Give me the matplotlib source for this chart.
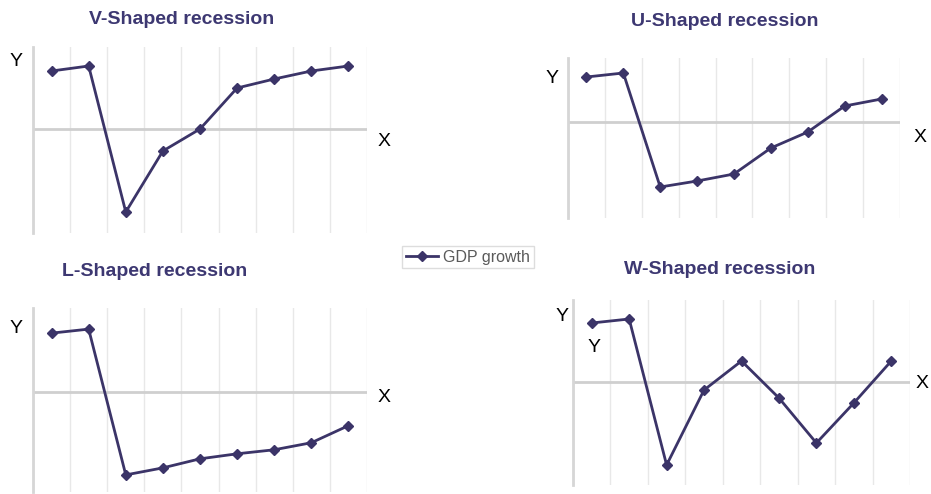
import matplotlib
matplotlib.use("Agg")
import matplotlib.pyplot as plt
import numpy as np
from matplotlib.lines import Line2D

plt.rcParams["font.family"] = ["Liberation Sans", "DejaVu Sans"]

# GDP growth per period, one list per recession shape
periods = list(range(9))
v_shape = [5.8, 6.3, -8.3, -2.2, 0.0, 4.1, 5.0, 5.8, 6.3]
u_shape = [4.5, 4.9, -6.5, -5.9, -5.2, -2.6, -1.0, 1.6, 2.3]
l_shape = [5.9, 6.3, -8.2, -7.5, -6.6, -6.1, -5.7, -5.0, -3.3]
w_shape = [5.9, 6.3, -8.3, -0.8, 2.1, -1.6, -6.1, -2.1, 2.1]

titles = ["V-Shaped recession", "U-Shaped recession",
          "L-Shaped recession", "W-Shaped recession"]
series_label = "GDP growth"

LINE = "#3b3468"
TITLE = "#3d3872"
W, H = 931, 494

fig = plt.figure(figsize=(W / 100, H / 100), dpi=100)


def px_axes(x0, y0, x1, y1):
    return fig.add_axes([x0 / W, 1 - y1 / H, (x1 - x0) / W, (y1 - y0) / H])


def draw_panel(box, values, ylim):
    ax = px_axes(*box)
    for g in np.arange(-0.5, len(periods)):
        ax.axvline(g, color="#e8e8e8", lw=1, zorder=1)
    ax.axhline(0, color="#cfcfcf", lw=2, zorder=2)
    ax.plot(periods, values, color=LINE, lw=2, marker="D", ms=5, zorder=3)
    ax.set_xlim(-0.5, len(periods) - 0.5)
    ax.set_ylim(*ylim)
    for s in ["top", "right", "bottom"]:
        ax.spines[s].set_visible(False)
    ax.spines["left"].set_color("#d6d6d6")
    ax.spines["left"].set_linewidth(2)
    ax.set_xticks([])
    ax.set_yticks([])
    ax.patch.set_alpha(0)
    return ax


draw_panel((33, 47, 367, 233), v_shape, (-10.4, 8.2))
draw_panel((568, 58, 900, 218), u_shape, (-9.6, 6.4))
draw_panel((33, 308, 367, 492), l_shape, (-9.9, 8.4))
draw_panel((573, 300, 910, 485), w_shape, (-10.3, 8.2))


def ptext(x, y, s, **kw):
    fig.text(x / W, 1 - y / H, s, ha="center", va="center", **kw)


title_kw = dict(fontsize=14, fontweight="bold", color=TITLE)
ptext(182, 19, titles[0], **title_kw)
ptext(725, 21, titles[1], **title_kw)
ptext(155, 271, titles[2], **title_kw)
ptext(720, 269, titles[3], **title_kw)

ax_kw = dict(fontsize=14, color="black")
ptext(16, 62, "Y", **ax_kw)
ptext(384, 141, "X", **ax_kw)
ptext(552, 78, "Y", **ax_kw)
ptext(920, 137, "X", **ax_kw)
ptext(16, 328, "Y", **ax_kw)
ptext(384, 397, "X", **ax_kw)
ptext(562, 316, "Y", **ax_kw)
ptext(594, 348, "Y", **ax_kw)
ptext(922, 383, "X", **ax_kw)

handle = Line2D([0], [0], color=LINE, lw=2, marker="D", ms=5)
leg = fig.legend([handle], [series_label], loc="center",
                 bbox_to_anchor=(468 / W, 1 - 257 / H), fontsize=11.5,
                 frameon=True, fancybox=False, handlelength=2.0,
                 handletextpad=0.3, borderpad=0.25, labelcolor="#5a5a5a")
leg.get_frame().set_edgecolor("#d5d5d5")
leg.get_frame().set_linewidth(1)

fig.savefig("out.png", dpi=100)
